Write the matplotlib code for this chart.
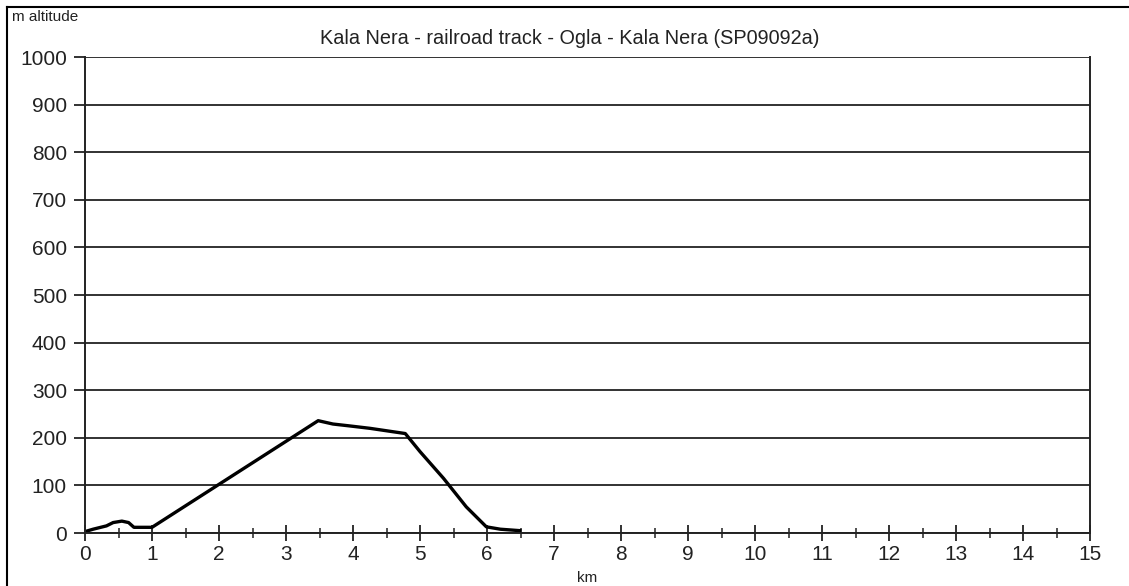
import matplotlib.pyplot as plt
from matplotlib.lines import Line2D
from matplotlib.ticker import MultipleLocator

plt.rcParams['font.family'] = ['Liberation Sans', 'DejaVu Sans']

# distance (km) / altitude (m)
km = [0.0, 0.12, 0.32, 0.42, 0.55, 0.65, 0.73, 0.82, 1.0, 3.48, 3.7, 3.95, 4.25,
      4.78, 5.0, 5.35, 5.69, 5.99, 6.2, 6.49]
alt = [3, 8, 15, 22, 25, 22, 12, 12, 12, 236, 229, 225, 220,
       209, 171, 115, 55, 13, 8, 5]

title = 'Kala Nera - railroad track - Ogla - Kala Nera (SP09092a)'

fig = plt.figure(figsize=(11.29, 5.86), dpi=100)
ax = fig.add_axes([0.0753, 0.0904, 0.8902, 0.8123])

ax.plot(km, alt, color='black', lw=2.4, solid_joinstyle='round')

ax.set_xlim(0, 15)
ax.set_ylim(0, 1000)
ax.xaxis.set_major_locator(MultipleLocator(1))
ax.xaxis.set_minor_locator(MultipleLocator(0.5))
ax.yaxis.set_major_locator(MultipleLocator(100))
ax.grid(axis='y', color='#222222', lw=1.3)
ax.set_axisbelow(True)

ax.spines['top'].set_visible(False)
for s in ['left', 'right', 'bottom']:
    ax.spines[s].set_color('#222222')
    ax.spines[s].set_linewidth(1.4)

ax.tick_params(axis='x', which='major', direction='inout', length=11, width=1.3,
               labelsize=15, pad=3, color='#222222')
ax.tick_params(axis='x', which='minor', direction='inout', length=7, width=1.1,
               color='#222222')
ax.tick_params(axis='y', which='major', direction='out', length=8, width=1.3,
               labelsize=15, pad=5, color='#222222')
for lab in ax.get_xticklabels() + ax.get_yticklabels():
    lab.set_color('#222222')

fig.text(0.505, 1 - 38 / 586, title, ha='center', va='center', fontsize=14.3,
         color='#222222')
fig.text(12 / 1129, 1 - 17 / 586, 'm altitude', ha='left', va='center', fontsize=11,
         color='#222222')
fig.text(587 / 1129, 1 - 578 / 586, 'km', ha='center', va='center', fontsize=11,
         color='#222222')

# outer frame (top and left edges)
fig.add_artist(Line2D([7 / 1129, 1.0], [1 - 7 / 586, 1 - 7 / 586],
                      transform=fig.transFigure, color='black', lw=1.5))
fig.add_artist(Line2D([7 / 1129, 7 / 1129], [0.0, 1 - 7 / 586],
                      transform=fig.transFigure, color='black', lw=1.5))

fig.savefig('out.png', dpi=100)
